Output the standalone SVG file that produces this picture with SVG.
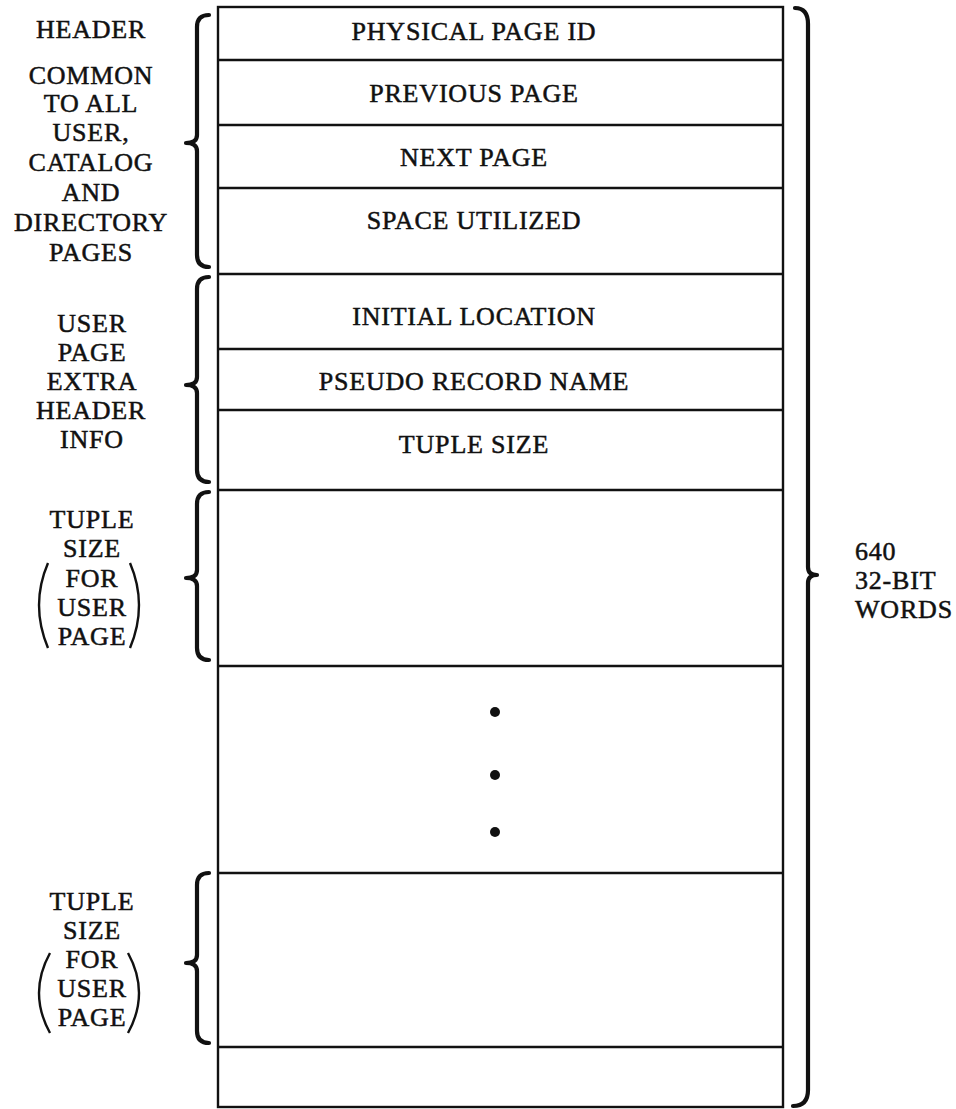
<svg xmlns="http://www.w3.org/2000/svg" width="956" height="1109" viewBox="0 0 956 1109">
<style>
.t{font-family:"Liberation Serif","Times New Roman",serif;font-size:26px;letter-spacing:0.8px;fill:#111;stroke:#111;stroke-width:0.5;text-anchor:middle}
.l{text-anchor:start}
.ln{stroke:#111;stroke-width:2.4;fill:none}
.br{stroke:#111;stroke-width:4.2;fill:none;stroke-linecap:round;stroke-linejoin:round}
.pr{stroke:#111;stroke-width:2.4;fill:none}
</style>
<rect width="956" height="1109" fill="#fff"/>
<g id="page-box">
<rect class="ln" x="218" y="7" width="565" height="1100"/>
</g>
<g id="row-physical-page-id"><line class="ln" x1="218" y1="60" x2="783" y2="60"/><text class="t" x="474" y="40">PHYSICAL PAGE ID</text></g>
<g id="row-previous-page"><line class="ln" x1="218" y1="125" x2="783" y2="125"/><text class="t" x="474" y="102">PREVIOUS PAGE</text></g>
<g id="row-next-page"><line class="ln" x1="218" y1="188" x2="783" y2="188"/><text class="t" x="474" y="166">NEXT PAGE</text></g>
<g id="row-space-utilized"><line class="ln" x1="218" y1="274" x2="783" y2="274"/><text class="t" x="474" y="229">SPACE UTILIZED</text></g>
<g id="row-initial-location"><line class="ln" x1="218" y1="349" x2="783" y2="349"/><text class="t" x="474" y="325">INITIAL LOCATION</text></g>
<g id="row-pseudo-record-name"><line class="ln" x1="218" y1="410" x2="783" y2="410"/><text class="t" x="474" y="390">PSEUDO RECORD NAME</text></g>
<g id="row-tuple-size"><line class="ln" x1="218" y1="490" x2="783" y2="490"/><text class="t" x="474" y="453">TUPLE SIZE</text></g>
<g id="row-tuple-1"><line class="ln" x1="218" y1="666" x2="783" y2="666"/></g>
<g id="row-ellipsis"><line class="ln" x1="218" y1="873" x2="783" y2="873"/>
<circle cx="495" cy="712" r="5" fill="#111"/><circle cx="495" cy="775" r="5" fill="#111"/><circle cx="495" cy="832" r="5" fill="#111"/></g>
<g id="row-tuple-n"><line class="ln" x1="218" y1="1047" x2="783" y2="1047"/></g>
<g id="row-last"></g>

<g id="label-header">
<text class="t" x="91" y="38">HEADER</text>
<text class="t" x="91" y="84">COMMON</text>
<text class="t" x="91" y="112">TO ALL</text>
<text class="t" x="91" y="141">USER,</text>
<text class="t" x="91" y="171">CATALOG</text>
<text class="t" x="91" y="201">AND</text>
<text class="t" x="91" y="231">DIRECTORY</text>
<text class="t" x="91" y="261">PAGES</text>
</g>
<g id="label-user-extra">
<text class="t" x="92" y="332">USER</text>
<text class="t" x="92" y="361">PAGE</text>
<text class="t" x="92" y="390">EXTRA</text>
<text class="t" x="91" y="419">HEADER</text>
<text class="t" x="92" y="448">INFO</text>
</g>
<g id="label-tuple-1">
<text class="t" x="92" y="528">TUPLE</text>
<text class="t" x="92" y="557">SIZE</text>
<text class="t" x="92" y="587">FOR</text>
<text class="t" x="92" y="616">USER</text>
<text class="t" x="92" y="645">PAGE</text>
<path class="pr" d="M48,563 Q30,605 48,648"/>
<path class="pr" d="M130,563 Q148,605 130,648"/>
</g>
<g id="label-tuple-n">
<text class="t" x="92" y="910">TUPLE</text>
<text class="t" x="92" y="939">SIZE</text>
<text class="t" x="92" y="968">FOR</text>
<text class="t" x="92" y="997">USER</text>
<text class="t" x="92" y="1026">PAGE</text>
<path class="pr" d="M50,953 Q28,993 50,1033"/>
<path class="pr" d="M128,953 Q150,993 128,1033"/>
</g>
<g id="label-words">
<text class="t l" x="855" y="560">640</text>
<text class="t l" x="855" y="589">32-BIT</text>
<text class="t l" x="855" y="618">WORDS</text>
</g>

<g id="connectors">
<path class="br" d="M209,15 Q197,15 197,27 L197,135 Q197,143 186,143 Q197,143 197,151 L197,255 Q197,267 209,267"/>
<path class="br" d="M209,277 Q197,277 197,289 L197,377 Q197,385 186,385 Q197,385 197,393 L197,470 Q197,482 209,482"/>
<path class="br" d="M209,492 Q197,492 197,504 L197,570 Q197,578 186,578 Q197,578 197,586 L197,648 Q197,660 209,660"/>
<path class="br" d="M209,873 Q197,873 197,885 L197,955 Q197,963 186,963 Q197,963 197,971 L197,1031 Q197,1043 209,1043"/>
<path class="br" d="M795,8 Q808,8 808,24 L808,567 Q808,575 817,575 Q808,575 808,583 L808,1090 Q808,1106 793,1106"/>
</g>
</svg>
